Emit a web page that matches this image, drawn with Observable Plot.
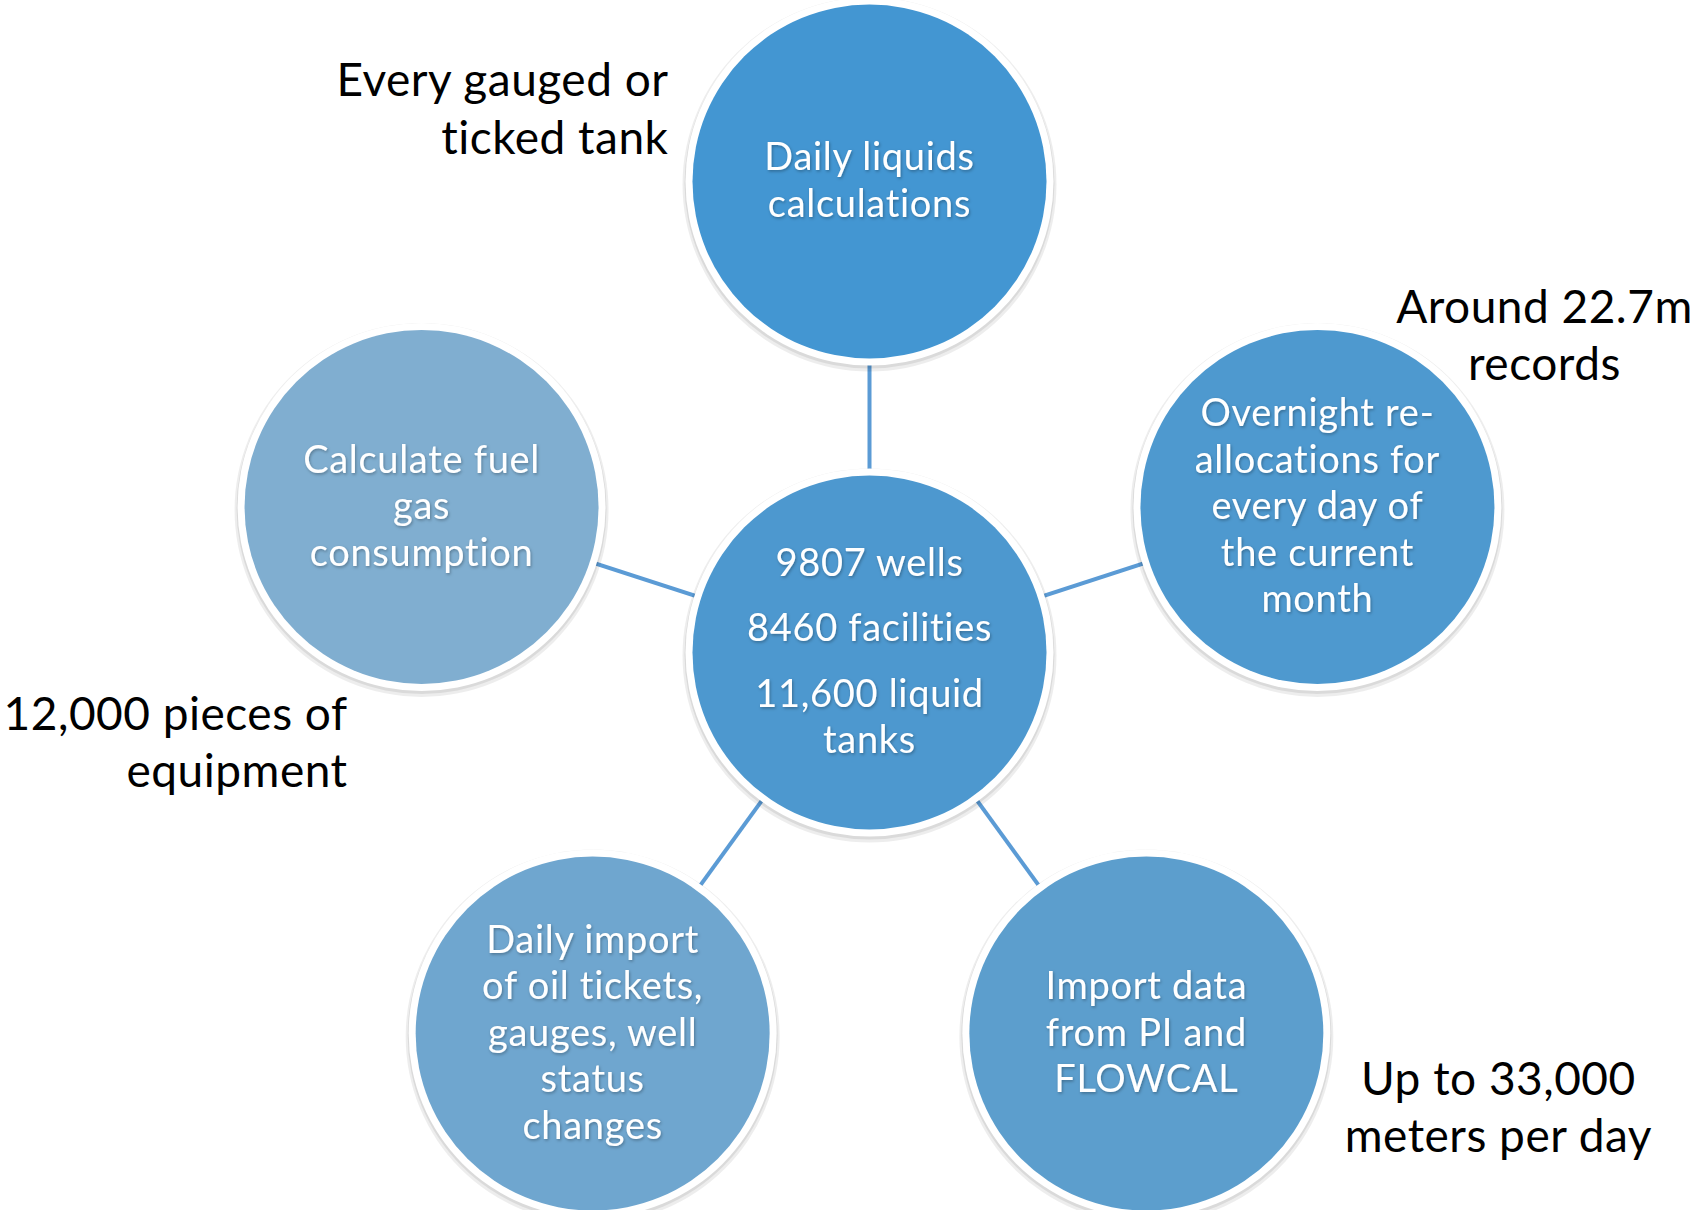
<!DOCTYPE html>
<html>
<head>
<meta charset="utf-8">
<script src="https://cdn.jsdelivr.net/npm/d3@7"></script>
<script src="https://cdn.jsdelivr.net/npm/@observablehq/plot@0.6"></script>
<style>
  html, body { margin: 0; padding: 0; background: #fff; }
  #chart svg { display: block; }
</style>
</head>
<body>
<div id="chart"></div>
<script>
// ---- data ----
const hubParagraphs = ["9807 wells", "8460 facilities", "11,600 liquid\ntanks"];
const nodeLabels = [
  "Daily liquids\ncalculations",
  "Overnight re-\nallocations for\nevery day of\nthe current\nmonth",
  "Import data\nfrom PI and\nFLOWCAL",
  "Daily import\nof oil tickets,\ngauges, well\nstatus\nchanges",
  "Calculate fuel\ngas\nconsumption"
];
const annotationLabels = [
  "Every gauged or\nticked tank",
  "Around 22.7m\nrecords",
  "Up to 33,000\nmeters per day",
  null,
  "12,000 pieces of\nequipment"
];

// ---- layout & style ----
const W = 1697, H = 1210;
const hub = {x: 869, y: 652};
const ringR = 471;
const nodeColors = ["#4396d2", "#4e99cf", "#5c9ecd", "#6fa6cf", "#80aed0"];
const hubColor = "#4d98cf";
const annotLayout = [
  {dx: -201, dy: -71, anchor: "end"},
  {dx: 227, dy: -170, anchor: "middle"},
  {dx: 352, dy: 75, anchor: "middle"},
  null,
  {dx: -74, dy: 237, anchor: "end"}
];

const nodes = nodeLabels.map((label, i) => {
  const a = (-90 + 72 * i) * Math.PI / 180;
  return {label, color: nodeColors[i], x: hub.x + ringR * Math.cos(a), y: hub.y + ringR * Math.sin(a)};
});
const allCircles = [{x: hub.x, y: hub.y, color: hubColor}, ...nodes];

const LH = 46.5;
const lines = [];
nodes.forEach(n => {
  const ls = n.label.split("\n");
  ls.forEach((t, j) => lines.push({text: t, x: n.x, y: n.y + (j - (ls.length - 1) / 2) * LH}));
});
{
  const gap = 19;
  const rows = [];
  let off = 0;
  hubParagraphs.forEach((p) => {
    p.split("\n").forEach((t, j) => {
      if (rows.length) off += LH + (j === 0 ? gap : 0);
      rows.push({text: t, off});
    });
  });
  const mid = off / 2;
  rows.forEach(r => lines.push({text: r.text, x: hub.x, y: hub.y + r.off - mid}));
}

const annots = [];
annotationLabels.forEach((t, i) => {
  if (!t) return;
  const L = annotLayout[i];
  const ls = t.split("\n");
  ls.forEach((s, j) => annots.push({
    text: s, anchor: L.anchor,
    x: nodes[i].x + L.dx, y: nodes[i].y + L.dy + (j - (ls.length - 1) / 2) * 57.5
  }));
});

const font = "Lato, 'Open Sans', sans-serif";

const chart = Plot.plot({
  width: W, height: H,
  margin: 0,
  x: {domain: [0, W], range: [0, W], axis: null},
  y: {domain: [0, H], range: [0, H], axis: null},
  style: {fontFamily: font, background: "#fff", overflow: "hidden"},
  marks: [
    Plot.link(nodes, {x1: hub.x, y1: hub.y, x2: "x", y2: "y", stroke: "#5b9bd5", strokeWidth: 4}),
    Plot.dot(allCircles, {x: "x", y: "y", r: 187, fill: "#000", fillOpacity: 0.07, dy: 3}),
    Plot.dot(allCircles, {x: "x", y: "y", r: 185, fill: "#000", fillOpacity: 0.08, dy: 2}),
    Plot.dot(allCircles, {x: "x", y: "y", r: 184, fill: "#fff"}),
    Plot.dot(allCircles, {x: "x", y: "y", r: 177, fill: d => d.color}),
    Plot.text(lines, {x: "x", y: "y", text: "text", fill: "#fff", fontSize: 38, textAnchor: "middle", lineAnchor: "middle", className: "wlabel"}),
    Plot.text(annots.filter(d => d.anchor === "end"), {x: "x", y: "y", text: "text", fill: "#000", fontSize: 46, textAnchor: "end", lineAnchor: "middle", className: "blabel"}),
    Plot.text(annots.filter(d => d.anchor === "middle"), {x: "x", y: "y", text: "text", fill: "#000", fontSize: 46, textAnchor: "middle", lineAnchor: "middle", className: "blabel"})
  ]
});
// styling tweaks: letter spacing and soft text shadow
const svg = d3.select(chart);
const defs = svg.insert("defs", ":first-child");
const f = defs.append("filter").attr("id", "tshadow").attr("x", "-10%").attr("y", "-30%").attr("width", "120%").attr("height", "160%");
f.append("feDropShadow").attr("dx", 1).attr("dy", 1.5).attr("stdDeviation", 1.5).attr("flood-color", "#000").attr("flood-opacity", 0.3);
svg.selectAll(".wlabel text").attr("letter-spacing", "0.7px").attr("filter", "url(#tshadow)");
svg.selectAll(".blabel text").attr("letter-spacing", "0.5px");
document.getElementById("chart").appendChild(chart);
</script>
</body>
</html>
